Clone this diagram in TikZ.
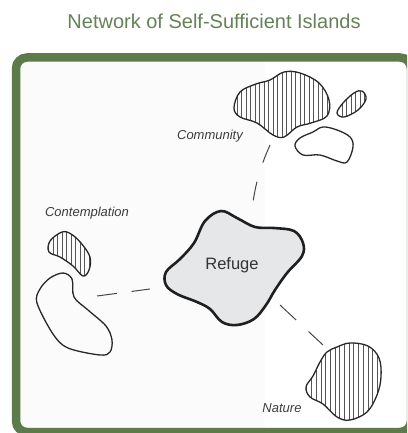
\documentclass[tikz,border=0pt]{standalone}
\usepackage{fontspec}
\setmainfont{Liberation Sans}
\setsansfont{Liberation Sans}
\definecolor{framegreen}{RGB}{92,122,74}
\definecolor{titlegreen}{RGB}{100,130,86}
\definecolor{inkgray}{RGB}{40,40,40}
\definecolor{labelgray}{RGB}{60,60,60}
\definecolor{refugefill}{RGB}{230,231,233}
\definecolor{hatchgray}{RGB}{85,85,85}
\tikzset{
  islandline/.style={draw=inkgray, line width=1.3pt, line join=round},
  refugeline/.style={draw=black!88, line width=2.6pt, fill=refugefill, line join=round},
  hatchline/.style={draw=hatchgray, line width=0.55pt},
  linkline/.style={draw=black!72, line width=1pt, dash pattern=on 20pt off 16pt},
  islandlabel/.style={text=labelgray, font=\fontsize{13}{15}\selectfont\itshape, inner sep=0pt},
}
\begin{document}
\begin{tikzpicture}[x=1pt,y=-1pt]
\useasboundingbox (0,0) rectangle (407,433);
\clip (0,0) rectangle (407,433);
% faint background tone
\fill[white!98.6!black] (16,57) rectangle (265,432);
% frame
\draw[framegreen, line width=8.5pt, rounded corners=11pt] (16,57.5) rectangle (411,432);
% title
\node[text=titlegreen, font=\fontsize{20}{24}\selectfont, inner sep=0pt] (title) at (214,21.5) {Network of Self-Sufficient Islands};

% ---- Community islands ----
\begin{scope}
\clip plot[smooth cycle, tension=0.6] coordinates {(234,108) (240,92) (256,84) (270,80) (284,72) (300,73) (319,83) (329,100) (327,116) (311,123) (297,127) (284,137) (273,135) (257,123) (240,117)};
\foreach \x in {228,232.5,...,334} \draw[hatchline] (\x,65) -- (\x,145);
\end{scope}
\draw[islandline] plot[smooth cycle, tension=0.6] coordinates {(234,108) (240,92) (256,84) (270,80) (284,72) (300,73) (319,83) (329,100) (327,116) (311,123) (297,127) (284,137) (273,135) (257,123) (240,117)};

\begin{scope}
\clip plot[smooth cycle, tension=0.6] coordinates {(337,113) (343,103) (354,93) (362,91) (366,99) (358,110) (344,117)};
\foreach \x in {333,337.5,...,370} \draw[hatchline] (\x,85) -- (\x,122);
\end{scope}
\draw[islandline] plot[smooth cycle, tension=0.6] coordinates {(337,113) (343,103) (354,93) (362,91) (366,99) (358,110) (344,117)};

\draw[islandline] plot[smooth cycle, tension=0.6] coordinates {(295,146) (300,138) (313,132) (323,127) (337,130) (350,137) (353,147) (347,162) (337,161) (320,155) (303,155)};

\node[islandlabel] (community) at (210,136) {Community};

% ---- Contemplation islands ----
\begin{scope}
\clip plot[smooth cycle, tension=0.6] coordinates {(62,232) (50,241) (49,252) (60,257) (73,266) (83,276) (89,270) (90,257) (81,243) (71,234)};
\foreach \x in {44,48.5,...,96} \draw[hatchline] (\x,225) -- (\x,282);
\end{scope}
\draw[islandline] plot[smooth cycle, tension=0.6] coordinates {(62,232) (50,241) (49,252) (60,257) (73,266) (83,276) (89,270) (90,257) (81,243) (71,234)};

\draw[islandline] plot[smooth cycle, tension=0.55] coordinates {(63,273) (72,279) (74,297) (88,310) (106,326) (112,340) (110,352) (100,355) (68,348) (53,334) (37,303) (40,289) (50,278)};

\node[islandlabel] (contemplation) at (87,213) {Contemplation};

% ---- Nature island ----
\begin{scope}
\clip plot[smooth cycle, tension=0.6] coordinates {(337,347) (350,343) (368,346) (379,358) (381,377) (377,395) (367,412) (350,420) (337,417) (323,404) (310,397) (306,387) (313,376) (320,362) (327,352)};
\foreach \x in {302,306.7,...,386} \draw[hatchline] (\x,338) -- (\x,425);
\end{scope}
\draw[islandline] plot[smooth cycle, tension=0.6] coordinates {(337,347) (350,343) (368,346) (379,358) (381,377) (377,395) (367,412) (350,420) (337,417) (323,404) (310,397) (306,387) (313,376) (320,362) (327,352)};

\node[islandlabel] (nature) at (282,408) {Nature};

% ---- Refuge ----
\draw[refugeline] plot[smooth cycle, tension=0.6] coordinates {(221,211) (237,218) (255,227) (274,228) (294,231) (303,243) (302,256) (287,273) (275,290) (266,305) (254,319) (237,325) (222,322) (210,309) (197,302) (177,294) (166,285) (166,272) (180,259) (194,243) (205,221)};
\node[font=\fontsize{16.5}{19}\selectfont, text=black!80, inner sep=0pt] (refuge) at (232,265) {Refuge};

% ---- connectors ----
\coordinate (comA) at (270,145);
\coordinate (comB) at (252,209);
\coordinate (conA) at (97,296);
\coordinate (conB) at (150,289);
\coordinate (natA) at (280,305);
\coordinate (natB) at (323,345);
\draw[linkline, dash pattern=on 19pt off 20pt] (comA) to[bend right=8] (comB);
\draw[linkline, dash pattern=on 20pt off 15pt] (conA) -- (conB);
\draw[linkline, dash pattern=on 22pt off 17pt] (natA) -- (natB);
\end{tikzpicture}
\end{document}
